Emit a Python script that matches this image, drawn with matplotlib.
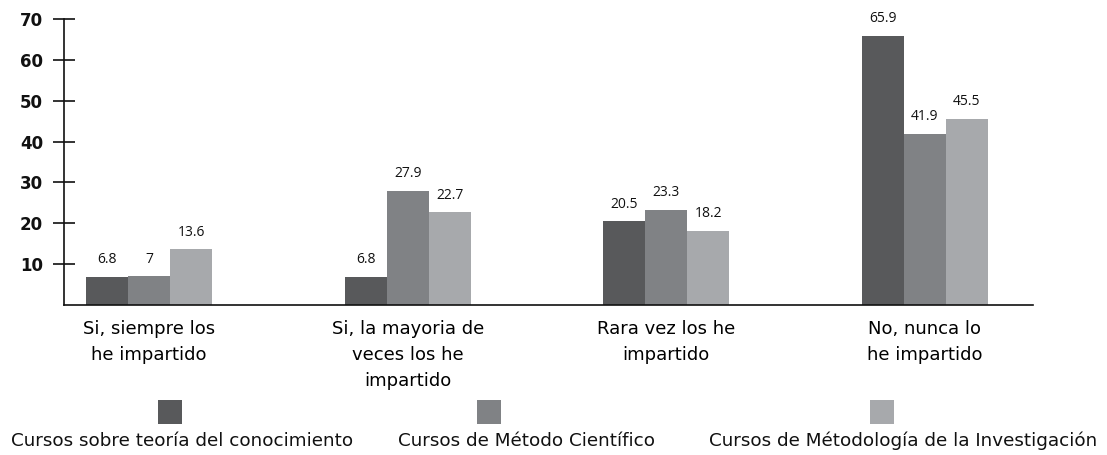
import matplotlib
matplotlib.use("Agg")
import matplotlib.pyplot as plt
from matplotlib.patches import Rectangle
import numpy as np

categories = [
    "Si, siempre los\nhe impartido",
    "Si, la mayoria de\nveces los he\nimpartido",
    "Rara vez los he\nimpartido",
    "No, nunca lo\nhe impartido",
]
series_names = [
    "Cursos sobre teoría del conocimiento",
    "Cursos de Método Científico",
    "Cursos de Métodología de la Investigación",
]
teoria = [6.8, 6.8, 20.5, 65.9]
metodo = [7, 27.9, 23.3, 41.9]
investigacion = [13.6, 22.7, 18.2, 45.5]
y_ticks = [10, 20, 30, 40, 50, 60, 70]

colors = ["#58595b", "#808285", "#a7a9ac"]
series = [teoria, metodo, investigacion]

W, H = 1107, 455
fig = plt.figure(figsize=(W / 100, H / 100), dpi=100)
ax = fig.add_axes([64 / W, 1 - 305 / H, (1033 - 64) / W, (305 - 19) / H])

x = np.arange(len(categories))
bw = 0.1625
for i, (vals, c) in enumerate(zip(series, colors)):
    pos = x + (i - 1) * bw
    bars = ax.bar(pos, vals, width=bw, color=c, edgecolor="none")
    for b, v in zip(bars, vals):
        ax.annotate(f"{v:g}", (b.get_x() + b.get_width() / 2, v),
                    xytext=(0, 7), textcoords="offset points",
                    ha="center", va="bottom", fontsize=10,
                    family="Open Sans", color="#111111")

ax.set_xlim(-0.329, 3.418)
ax.set_ylim(0, 70)
ax.set_yticks(y_ticks)
ax.set_yticklabels([str(t) for t in y_ticks], fontsize=12,
                   fontweight="bold", family="DejaVu Sans")
ax.tick_params(axis="y", direction="inout", length=16, width=1.2, pad=7,
               colors="#111111")
ax.set_xticks(x)
ax.set_xticklabels(categories, fontsize=13, linespacing=1.55)
ax.tick_params(axis="x", length=0, pad=11)
for s in ["top", "right"]:
    ax.spines[s].set_visible(False)
for s in ["left", "bottom"]:
    ax.spines[s].set_linewidth(1.2)
    ax.spines[s].set_color("#111111")

# legend: colour squares above centred labels
sq_cx = [170, 489, 882]
lab_cx = [182, 526, 903]
for name, c, sx, lx in zip(series_names, colors, sq_cx, lab_cx):
    fig.add_artist(Rectangle(((sx - 12) / W, 1 - 424 / H), 24 / W, 24 / H,
                             transform=fig.transFigure, color=c, lw=0))
    fig.text(lx / W, 1 - 441 / H, name, ha="center", va="center",
             fontsize=13.2, color="#111111")

fig.savefig("out.png", dpi=100)
